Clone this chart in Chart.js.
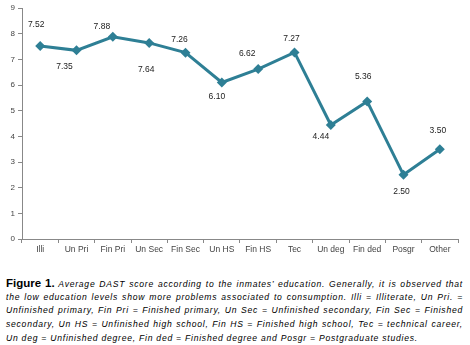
<!DOCTYPE html>
<html>
<head>
<meta charset="utf-8">
<script src="https://cdn.jsdelivr.net/npm/chart.js@4"></script>
<style>
  body { margin: 0; background: #fff; width: 470px; height: 345px; overflow: hidden; }
  #wrap { position: relative; width: 470px; height: 262px; }
  #cap {
    position: absolute; left: 6px; top: 277px; width: 457px;
    font-family: "Liberation Sans", Arial, sans-serif; font-size: 8.6px; font-style: italic;
    letter-spacing: 0.75px; color: #000;
  }
  #cap div { height: 13.7px; line-height: 13.7px; white-space: nowrap; text-align: justify; text-align-last: justify; }
  #cap div.ult { text-align-last: left; }
  #cap b { font-style: normal; font-size: 11.5px; letter-spacing: 0; }
</style>
</head>
<body>
<div id="wrap"><canvas id="myChart01"></canvas></div>
<div id="cap">
  <div><b>Figure 1.</b> Average DAST score according to the inmates’ education. Generally, it is observed that</div>
  <div>the low education levels show more problems associated to consumption. Illi = Illiterate, Un Pri. =</div>
  <div>Unfinished primary, Fin Pri = Finished primary, Un Sec = Unfinished secondary, Fin Sec = Finished</div>
  <div>secondary, Un HS = Unfinished high school, Fin HS = Finished high school, Tec = technical career,</div>
  <div class="ult">Un deg = Unfinished degree, Fin ded = Finished degree and Posgr = Postgraduate studies.</div>
</div>
<script>
var etiquetas = ['Illi', 'Un Pri', 'Fin Pri', 'Un Sec', 'Fin Sec', 'Un HS', 'Fin HS', 'Tec', 'Un deg', 'Fin ded', 'Posgr', 'Other'];
var datos = [7.52, 7.35, 7.88, 7.64, 7.26, 6.10, 6.62, 7.27, 4.44, 5.36, 2.50, 3.50];
var ticksY = [0, 1, 2, 3, 4, 5, 6, 7, 8, 9];

// where each value label sits relative to its point (dx, dy)
var labelDx = [-4, -12, -11, -3, -6, -5, -11, -3, -10, -4, -2, -2];
var labelDy = [-21, 16, -10, 27, -13, 14, -15, -14, 12, -25, 17, -19];

var etiquetasValor = {
    id: 'etiquetasValor',
    afterDatasetsDraw: function (chart) {
        var ctx = chart.ctx;
        var meta = chart.getDatasetMeta(0);
        ctx.save();
        ctx.font = '8.5px "Liberation Sans", Arial, sans-serif';
        ctx.fillStyle = '#222';
        ctx.textAlign = 'center';
        ctx.textBaseline = 'middle';
        meta.data.forEach(function (pt, i) {
            ctx.fillText(datos[i].toFixed(2), pt.x + labelDx[i], pt.y + labelDy[i]);
        });
        ctx.restore();
    }
};

var ctx = document.getElementById("myChart01");

var myChart1 = new Chart(ctx, {
    type: 'line',
    data: {
        labels: etiquetas,
        datasets: [{
            label: "DAST",
            data: datos,
            borderColor: '#2e7f95',
            backgroundColor: '#2e7f95',
            borderWidth: 3,
            pointStyle: 'rectRot',
            pointRadius: 5,
            pointBorderWidth: 0,
            tension: 0
        }]
    },
    options: {
        responsive: true,
        maintainAspectRatio: false,
        animation: false,
        layout: { padding: { left: 0, right: 12, top: 8, bottom: 0 } },
        plugins: {
            legend: { display: false },
            tooltip: { enabled: false }
        },
        scales: {
            x: {
                offset: true,
                grid: { display: true, drawOnChartArea: false, offset: true, tickLength: 4, color: '#888' },
                border: { color: '#888', width: 1 },
                ticks: {
                    color: '#444', maxRotation: 0, autoSkip: false, padding: 2,
                    font: { family: '"Liberation Sans", Arial, sans-serif', size: 8.5 }
                },
                afterFit: function (s) { s.height = 23; }
            },
            y: {
                min: 0,
                max: 9,
                afterBuildTicks: function (s) { s.ticks = ticksY.map(function (v) { return { value: v }; }); },
                grid: { display: true, drawOnChartArea: false, tickLength: 4, color: '#888' },
                border: { color: '#888', width: 1 },
                ticks: {
                    color: '#444', padding: 3,
                    font: { family: '"Liberation Sans", Arial, sans-serif', size: 8 }
                },
                afterFit: function (s) { s.width = 22; }
            }
        }
    },
    plugins: [etiquetasValor]
});
</script>
</body>
</html>
